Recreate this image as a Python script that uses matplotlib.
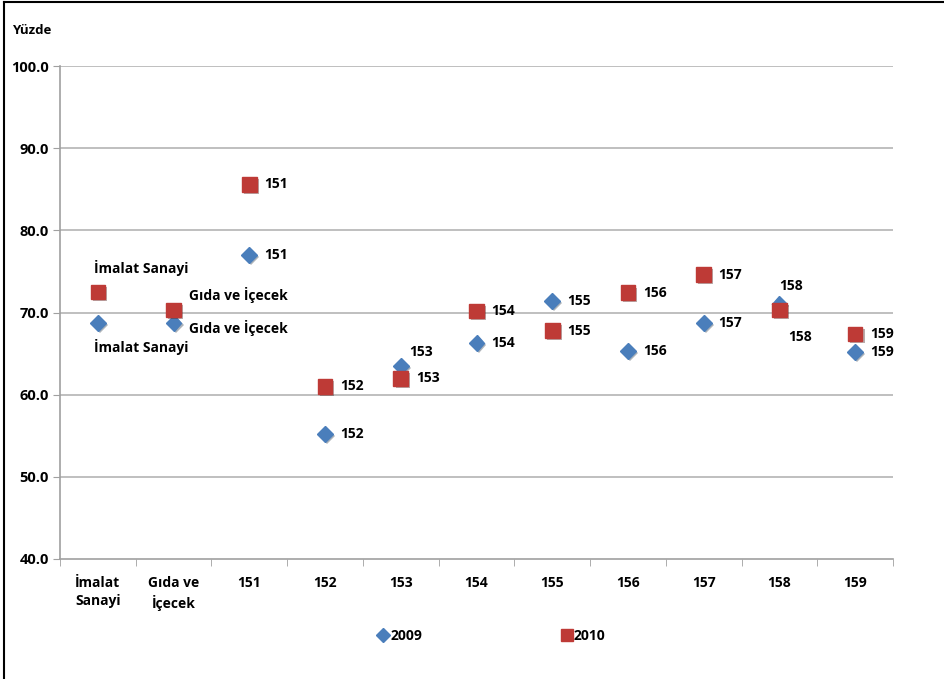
import matplotlib.pyplot as plt
from matplotlib.lines import Line2D
import matplotlib.patheffects as pe
import numpy as np

plt.rcParams['font.family'] = ['Open Sans', 'DejaVu Sans']
plt.rcParams['font.weight'] = 'bold'

categories = ['İmalat\nSanayi', 'Gıda ve\nİçecek', '151', '152', '153', '154',
              '155', '156', '157', '158', '159']
point_labels = ['İmalat Sanayi', 'Gıda ve İçecek', '151', '152', '153', '154',
                '155', '156', '157', '158', '159']
values_2009 = [68.7, 68.7, 77.0, 55.2, 63.5, 66.3, 71.4, 65.3, 68.7, 71.0, 65.2]
values_2010 = [72.5, 70.3, 85.6, 61.0, 62.0, 70.2, 67.8, 72.4, 74.6, 70.3, 67.4]
yticks = [40, 50, 60, 70, 80, 90, 100]

# label offsets in pixels (dx, dy) and horizontal alignment
off_2009 = [(43, -24, 'center'), (15, -5, 'left'), (15, 0, 'left'), (15, 0, 'left'),
            (8, 14, 'left'), (15, 0, 'left'), (15, 0, 'left'), (15, 0, 'left'),
            (15, 0, 'left'), (12, 18, 'center'), (15, 0, 'left')]
off_2010 = [(43, 24, 'center'), (15, 15, 'left'), (15, 0, 'left'), (15, 0, 'left'),
            (15, 0, 'left'), (15, 0, 'left'), (15, 0, 'left'), (15, 0, 'left'),
            (15, 0, 'left'), (21, -27, 'center'), (15, 0, 'left')]

blue = '#4a7ebb'
red = '#be3a36'
shadow = [pe.SimplePatchShadow(offset=(1.5, -1.5), alpha=0.35), pe.Normal()]

fig = plt.figure(figsize=(9.44, 6.79), dpi=100)
ax = fig.add_axes([60/944, 1 - 559/679, 833/944, 493/679])

x = np.arange(len(categories))
ax.plot(x, values_2009, 'D', color=blue, ms=8, mec=blue, ls='none',
        path_effects=shadow, zorder=3)
ax.plot(x, values_2010, 's', color=red, ms=10.5, mec=red, ls='none',
        path_effects=shadow, zorder=4)

for i in range(len(x)):
    for vals, offs in ((values_2009, off_2009), (values_2010, off_2010)):
        dx, dy, ha = offs[i]
        ax.annotate(point_labels[i], (x[i], vals[i]), xytext=(dx*0.72, dy*0.72),
                    textcoords='offset points', ha=ha, va='center',
                    fontsize=10, fontweight='bold')

ax.set_xlim(-0.5, len(categories) - 0.5)
ax.set_ylim(40, 100)
ax.set_yticks(yticks)
ax.set_yticklabels([f'{v:.1f}' for v in yticks], fontsize=10.5, fontweight='bold')
ax.set_xticks(x)
ax.set_xticklabels(categories, fontsize=10, fontweight='bold', linespacing=1.4)
ax.set_xticks(np.arange(-0.5, len(categories)), minor=True)
ax.tick_params(axis='x', which='major', length=0, pad=12)
ax.tick_params(axis='x', which='minor', length=5, color='#a0a0a0')
ax.tick_params(axis='y', length=5, color='#a0a0a0', pad=3)
for v in yticks[1:]:
    ax.axhline(v, color='#b4b4b4', lw=1.2, zorder=1)
for s in ['top', 'right']:
    ax.spines[s].set_visible(False)
for s in ['left', 'bottom']:
    ax.spines[s].set_color('#a0a0a0')
    ax.spines[s].set_linewidth(1.2)

fig.text(12/944, 1 - 30/679, 'Yüzde', fontsize=9.5, fontweight='bold', va='center')

handles = [Line2D([], [], marker='D', color=blue, ls='none', ms=7),
           Line2D([], [], marker='s', color=red, ls='none', ms=8.5)]
fig.legend(handles, ['2009', '2010'], loc='center', bbox_to_anchor=(491/944, 1 - 636/679),
           ncol=2, frameon=False, fontsize=10, handletextpad=0.0,
           columnspacing=9.9, handlelength=1.0)

# figure border (left and top visible)
fig.add_artist(Line2D([4/944, 4/944], [0, 1 - 2/679], color='black', lw=1.5,
                      transform=fig.transFigure))
fig.add_artist(Line2D([4/944, 1], [1 - 2/679, 1 - 2/679], color='black', lw=1.5,
                      transform=fig.transFigure))

fig.savefig('out.png', dpi=100)
